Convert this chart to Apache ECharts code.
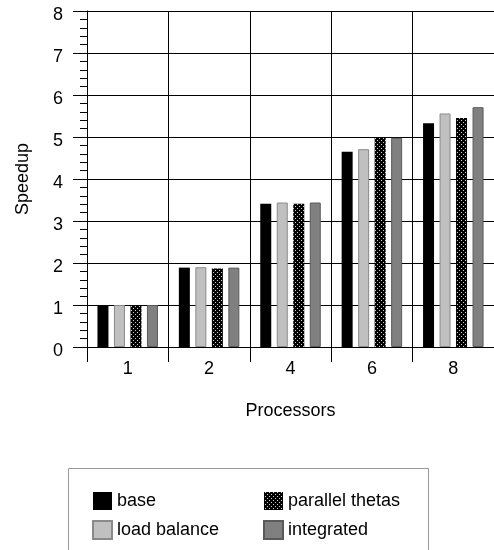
<!DOCTYPE html>
<html>
<head>
<meta charset="utf-8">
<script src="https://cdn.jsdelivr.net/npm/echarts@6/dist/echarts.min.js"></script>
<style>
html,body{margin:0;padding:0;background:#fff;}
#chart{width:494px;height:550px;}
</style>
</head>
<body>
<div id="chart"></div>
<script>
var categories = ['1', '2', '4', '6', '8'];
var seriesNames = ['base', 'load balance', 'parallel thetas', 'integrated'];
var baseVals = [1.0, 1.89, 3.41, 4.65, 5.33];
var loadBalanceVals = [1.0, 1.9, 3.44, 4.71, 5.56];
var parallelThetasVals = [1.0, 1.87, 3.41, 5.0, 5.45];
var integratedVals = [1.0, 1.89, 3.44, 4.98, 5.71];
var yTicks = [0, 1, 2, 3, 4, 5, 6, 7, 8];

function dotPattern() {
  var c = document.createElement('canvas');
  c.width = 4; c.height = 4;
  var g = c.getContext('2d');
  g.fillStyle = '#000';
  g.fillRect(0, 0, 4, 4);
  g.fillStyle = '#d0d0d0';
  g.fillRect(1, 0, 1, 1);
  g.fillRect(3, 2, 1, 1);
  return c;
}

var chart = echarts.init(document.getElementById('chart'), null, {renderer: 'canvas'});
var txt = '#000';
var font = 'Liberation Sans, Arial, sans-serif';

var option = {
  animation: false,
  backgroundColor: '#fff',
  textStyle: {fontFamily: font},
  grid: {left: 87, top: 11, width: 413, height: 336},
  xAxis: {
    type: 'category',
    data: categories,
    boundaryGap: true,
    name: 'Processors',
    nameLocation: 'middle',
    nameGap: 55,
    nameTextStyle: {fontSize: 18, color: txt, fontFamily: font},
    axisLine: {show: true, lineStyle: {color: '#000', width: 1}},
    axisTick: {show: true, length: 15, interval: 0, lineStyle: {color: '#000'}},
    axisLabel: {fontSize: 18, color: txt, margin: 13, fontFamily: font},
    splitLine: {show: true, interval: 0, lineStyle: {color: '#000', width: 1}}
  },
  yAxis: {
    type: 'value',
    min: yTicks[0],
    max: yTicks[yTicks.length - 1],
    interval: 1,
    name: 'Speedup',
    nameLocation: 'middle',
    nameGap: 55,
    nameTextStyle: {fontSize: 18, color: txt, fontFamily: font},
    axisLine: {show: true, lineStyle: {color: '#000', width: 1}},
    axisTick: {show: true, length: 14, lineStyle: {color: '#000'}},
    minorTick: {show: true, splitNumber: 5, length: 7, lineStyle: {color: '#000'}},
    axisLabel: {fontSize: 18, color: txt, margin: 24, fontFamily: font, verticalAlign: 'top', lineHeight: 8},
    splitLine: {show: true, lineStyle: {color: '#000', width: 1}}
  },
  legend: [
    {
      data: [seriesNames[0], seriesNames[1]],
      orient: 'vertical', left: 87, top: 487,
      itemWidth: 19, itemHeight: 18, itemGap: 10,
      icon: 'rect',
      textStyle: {fontSize: 18, color: txt, fontFamily: font}
    },
    {
      data: [seriesNames[2], seriesNames[3]],
      orient: 'vertical', left: 258, top: 487,
      itemWidth: 19, itemHeight: 18, itemGap: 10,
      icon: 'rect',
      textStyle: {fontSize: 18, color: txt, fontFamily: font}
    }
  ],
  graphic: [{
    type: 'rect',
    shape: {x: 68.5, y: 468.5, width: 360, height: 100},
    style: {fill: 'none', stroke: '#999', lineWidth: 1},
    silent: true
  }],
  series: [
    {name: seriesNames[0], type: 'bar', data: baseVals, barWidth: 11, barGap: '50%',
     itemStyle: {color: '#000'}},
    {name: seriesNames[1], type: 'bar', data: loadBalanceVals, barWidth: 11, barGap: '50%',
     itemStyle: {color: '#c0c0c0', borderColor: '#8a8a8a', borderWidth: 1}},
    {name: seriesNames[2], type: 'bar', data: parallelThetasVals, barWidth: 11, barGap: '50%',
     itemStyle: {color: {image: dotPattern(), repeat: 'repeat'}}},
    {name: seriesNames[3], type: 'bar', data: integratedVals, barWidth: 11, barGap: '50%',
     itemStyle: {color: '#808080', borderColor: '#5a5a5a', borderWidth: 1}}
  ]
};
chart.setOption(option);
</script>
</body>
</html>
